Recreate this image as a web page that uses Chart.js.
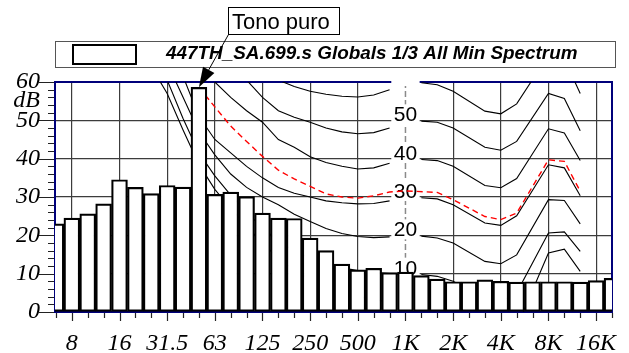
<!DOCTYPE html>
<html>
<head>
<meta charset="utf-8">
<script src="https://cdn.jsdelivr.net/npm/chart.js@4.4.0/dist/chart.umd.min.js"></script>
<style>
  body { margin: 0; background: #fff; }
  canvas { display: block; }
</style>
</head>
<body>
<canvas id="espectro" width="629" height="353"></canvas>
<script>
// Bandas de tercio de octava (índice 0 = 6.3 Hz)
const bandas = ['6.3', '8', '10', '12.5', '16', '20', '25', '31.5', '40', '50', '63', '80', '100', '125', '160', '200', '250', '315', '400', '500', '630', '800', '1K', '1.25K', '1.6K', '2K', '2.5K', '3.15K', '4K', '5K', '6.3K', '8K', '10K', '12.5K', '16K', '20K'];
const etiquetasX = ['', '8', '', '', '16', '', '', '31.5', '', '', '63', '', '', '125', '', '', '250', '', '', '500', '', '', '1K', '', '', '2K', '', '', '4K', '', '', '8K', '', '', '16K', ''];

// Espectro mínimo (dB)
const espectro = [23.0, 24.5, 25.6, 28.2, 34.5, 32.5, 30.9, 33.0, 32.6, 58.6, 30.7, 31.3, 30.1, 25.8, 24.5, 24.4, 19.3, 16.0, 12.5, 11.0, 11.4, 10.3, 10.4, 9.5, 8.6, 7.9, 7.9, 8.4, 8.0, 7.8, 7.9, 7.9, 7.9, 7.8, 8.2, 8.8];

// Isofónicas: índices de banda de cada vértice (null en 1K = hueco para la etiqueta)
const bandasIso = [4, 5, 6, 7, 8, 9, 10, 11, 12, 13, 14, 15, 16, 17, 18, 19, 20, 21, 22, 23, 24, 25, 27, 28, 29, 31, 32, 33];
const iso0 = [80, 72, 64, 57, 47.5, 38.5, 32, 27, 22.5, 18, 14, 11, 8.5, 6.5, 5, 4, 3.3, 2.5, null, -0.2, -0.7, -2, -6, -6.5, -4, 15.4, 16.4, 10.6];
const iso10 = [88, 78, 67, 60.5, 50.5, 41.5, 35.5, 30.5, 26, 22, 18.5, 16, 14, 12.5, 11.5, 10.8, 10.3, 10, null, 9.8, 9.3, 8, 3.3, 2.7, 5, 20.6, 20.9, 15.8];
const iso20 = [95, 84, 73, 65, 56, 47, 41, 36, 32.5, 30, 28, 25.5, 23.6, 21.8, 20.5, 19.7, 19.4, 19.6, null, 19.8, 19.3, 18, 13.2, 12.6, 14.9, 29.3, 29.1, 23];
const iso30 = [102, 91, 81, 72, 61.5, 51, 45, 41.5, 38, 35, 32.5, 31, 30, 29, 28.5, 28.2, 28.3, 29, null, 29.8, 29.5, 28, 23.2, 22.6, 25.1, 38.4, 37.6, 30.3];
const iso40 = [110, 100, 90, 81, 72, 64, 60, 56, 52.5, 49.5, 45, 43, 40.5, 39, 38, 37.3, 37.6, 38.8, null, 39.8, 39.5, 38, 33, 32.4, 34.8, 47.8, 46.7, 39.5];
const iso50 = [118, 108, 99, 91, 83, 76, 70, 65, 60.5, 56, 52.5, 50.8, 49.5, 48, 47, 46.5, 46.8, 48, null, 49.8, 49.5, 48, 43, 42.2, 44.5, 57, 55.7, 47.3];
const iso60 = [125, 116, 107, 99, 92, 85, 79, 73.5, 69, 65, 60.5, 58.8, 57.6, 56.8, 56.3, 56.1, 56.6, 58, null, 59.8, 59.3, 57.6, 52.4, 51.7, 54.3, 67, 66, 57];
const nivelesIso = [10, 20, 30, 40, 50, 60];

// Isofónica que pasa por el tono puro (roja discontinua)
const bandasTono = [9, 10, 11, 12, 13, 14, 15, 16, 17, 18, 19, 20, 21, 22, 24, 25, 27, 28, 29, 31, 32, 33];
const isoTono = [58.6, 53.5, 48.5, 44.5, 40.6, 37, 34.7, 32.8, 30.8, 30, 29.7, 30.3, 31.3, 31.6, 31.2, 29.3, 24.9, 24.1, 25.8, 39.7, 39.3, 31.5];
const bandaTono = 9;

const ticksY = [];
for (let v = 0; v <= 60; v += 2) ticksY.push(v);

const puntos = (xs, ys) => xs.map((x, i) => ({ x: x, y: ys[i] }));
const esMayor = i => (i - 1) % 3 === 0;
const BANDA_1K = 22;
const fuenteEje = { family: '"Liberation Serif", "Times New Roman", serif', size: 24, style: 'italic' };

function curva(valores) {
    return {
        type: 'line',
        data: puntos(bandasIso, valores),
        borderColor: '#000',
        borderWidth: 1.1,
        pointRadius: 0,
        tension: 0,
        spanGaps: false,
        clip: 0,
        order: 2
    };
}

// Marco, rejilla de 1K, etiquetas de las isofónicas, leyenda y anotación
const decoracion = {
    id: 'decoracion',
    beforeDatasetsDraw(chart) {
        const { ctx, chartArea: a, scales: { x, y } } = chart;
        ctx.save();
        // línea de 1K discontinua
        const x1k = x.getPixelForValue(BANDA_1K);
        ctx.strokeStyle = '#8a8a8a';
        ctx.lineWidth = 1.5;
        ctx.setLineDash([6, 3]);
        ctx.beginPath();
        ctx.moveTo(x1k, a.top);
        ctx.lineTo(x1k, a.bottom);
        ctx.stroke();
        ctx.setLineDash([]);
        // marco azul
        ctx.strokeStyle = '#00007a';
        ctx.lineWidth = 2;
        ctx.strokeRect(a.left, a.top, a.right - a.left, a.bottom - a.top);
        // fondos blancos de las etiquetas (tapan rejilla y marco)
        ctx.font = '21px "Liberation Sans", Arial, sans-serif';
        ctx.textAlign = 'center';
        ctx.textBaseline = 'alphabetic';
        ctx.save();
        ctx.beginPath();
        ctx.rect(a.left, a.top - 2, a.right - a.left, a.bottom - a.top + 2);
        ctx.clip();
        ctx.fillStyle = '#fff';
        nivelesIso.forEach(n => {
            const py = y.getPixelForValue(n) + 1;
            const w = ctx.measureText(String(n)).width + 5;
            ctx.fillRect(x1k - w / 2, py - 17, w, 20);
        });
        ctx.restore();
        // textos, solo dentro del área
        ctx.beginPath();
        ctx.rect(a.left, a.top + 2, a.right - a.left, a.bottom - a.top - 2);
        ctx.clip();
        ctx.fillStyle = '#000';
        nivelesIso.forEach(n => {
            ctx.fillText(String(n), x1k, y.getPixelForValue(n) + 1);
        });
        ctx.restore();
    },
    afterDraw(chart) {
        const { ctx, chartArea: a, scales: { x, y } } = chart;
        ctx.save();
        // marcas de los ejes
        ctx.strokeStyle = '#222';
        ctx.lineWidth = 1.2;
        ctx.beginPath();
        bandas.forEach((b, i) => {
            const px = Math.round(x.getPixelForValue(i)) + 0.5;
            ctx.moveTo(px, a.bottom + 1);
            ctx.lineTo(px, a.bottom + (esMayor(i) ? 9 : 6));
        });
        ticksY.forEach(v => {
            const py = Math.round(y.getPixelForValue(v)) + 0.5;
            ctx.moveTo(a.left - 1, py);
            ctx.lineTo(a.left - (v % 10 === 0 ? 16 : 7), py);
        });
        ctx.stroke();

        // unidad del eje Y
        ctx.fillStyle = '#000';
        ctx.font = 'italic 24px "Liberation Serif", "Times New Roman", serif';
        ctx.textAlign = 'right';
        ctx.textBaseline = 'middle';
        ctx.fillText('dB', 40, 101);

        // leyenda
        ctx.strokeStyle = '#555';
        ctx.lineWidth = 1;
        ctx.strokeRect(55.5, 41.5, 560, 26);
        ctx.strokeStyle = '#000';
        ctx.lineWidth = 2;
        ctx.strokeRect(73, 45, 63, 19);
        ctx.font = 'italic bold 18.9px "Liberation Sans", Arial, sans-serif';
        ctx.textAlign = 'left';
        ctx.textBaseline = 'alphabetic';
        ctx.fillText('447TH_SA.699.s Globals 1/3 All Min Spectrum', 166, 58.5);

        // anotación del tono puro
        ctx.strokeStyle = '#000';
        ctx.lineWidth = 1;
        ctx.fillStyle = '#fff';
        ctx.fillRect(228.5, 7.5, 111, 27);
        ctx.strokeRect(228.5, 7.5, 111, 27);
        ctx.fillStyle = '#000';
        ctx.font = '22px "Liberation Sans", Arial, sans-serif';
        ctx.fillText('Tono puro', 232, 28.5);
        const tx = x.getPixelForValue(bandaTono);
        const ty = y.getPixelForValue(espectro[bandaTono]);
        const sx = 228.5, sy = 34.5;
        const len = Math.hypot(tx - sx, ty - sy);
        const ux = (tx - sx) / len, uy = (ty - sy) / len;
        const bx = tx - ux * 20, by = ty - uy * 20;
        ctx.beginPath();
        ctx.moveTo(sx, sy);
        ctx.lineTo(bx, by);
        ctx.stroke();
        ctx.beginPath();
        ctx.moveTo(tx, ty);
        ctx.lineTo(bx - uy * 6.5, by + ux * 6.5);
        ctx.lineTo(bx + uy * 6.5, by - ux * 6.5);
        ctx.closePath();
        ctx.fill();
        ctx.restore();
    }
};

const ctx = document.getElementById('espectro').getContext('2d');
const grafico = new Chart(ctx, {
    type: 'bar',
    data: {
        datasets: [
            {
                type: 'bar',
                label: '447TH_SA.699.s Globals 1/3 All Min Spectrum',
                data: puntos(bandas.map((b, i) => i), espectro),
                backgroundColor: '#fff',
                borderColor: '#000',
                borderWidth: 2.2,
                borderSkipped: false,
                barPercentage: 1,
                categoryPercentage: 1,
                clip: 0,
                order: 0
            },
            {
                type: 'line',
                data: puntos(bandasTono, isoTono),
                borderColor: '#ff0000',
                borderWidth: 1.4,
                borderDash: [6, 4],
                pointRadius: 0,
                tension: 0,
                clip: 0,
                order: 1
            },
            curva(iso0), curva(iso10), curva(iso20), curva(iso30),
            curva(iso40), curva(iso50), curva(iso60)
        ]
    },
    options: {
        responsive: false,
        animation: false,
        layout: { padding: { left: 0, right: 13, top: 82, bottom: 0 } },
        plugins: {
            legend: { display: false },
            tooltip: { enabled: false }
        },
        scales: {
            x: {
                type: 'linear',
                min: -0.06,
                max: 35,
                offset: false,
                afterBuildTicks: s => { s.ticks = bandas.map((b, i) => ({ value: i })); },
                afterFit: s => { s.height = 41; },
                grid: {
                    offset: false,
                    drawTicks: false,
                    lineWidth: 1.2,
                    color: c => (c.tick && esMayor(c.tick.value) && c.tick.value !== BANDA_1K) ? '#3c3c3c' : 'rgba(0,0,0,0)'
                },
                border: { display: false },
                ticks: {
                    autoSkip: false,
                    maxRotation: 0,
                    minRotation: 0,
                    padding: 17,
                    color: '#000',
                    font: fuenteEje,
                    callback: v => etiquetasX[v] || ''
                }
            },
            y: {
                min: 0,
                max: 60,
                afterBuildTicks: s => { s.ticks = ticksY.map(v => ({ value: v })); },
                afterFit: s => { s.width = 55; },
                grid: {
                    drawTicks: false,
                    lineWidth: 1.2,
                    color: c => (c.tick && c.tick.value % 10 === 0) ? '#3c3c3c' : 'rgba(0,0,0,0)'
                },
                border: { display: false },
                ticks: {
                    autoSkip: false,
                    padding: 15,
                    color: '#000',
                    font: fuenteEje,
                    callback: v => v % 10 === 0 ? String(v) : ''
                }
            }
        }
    },
    plugins: [decoracion]
});
</script>
</body>
</html>
